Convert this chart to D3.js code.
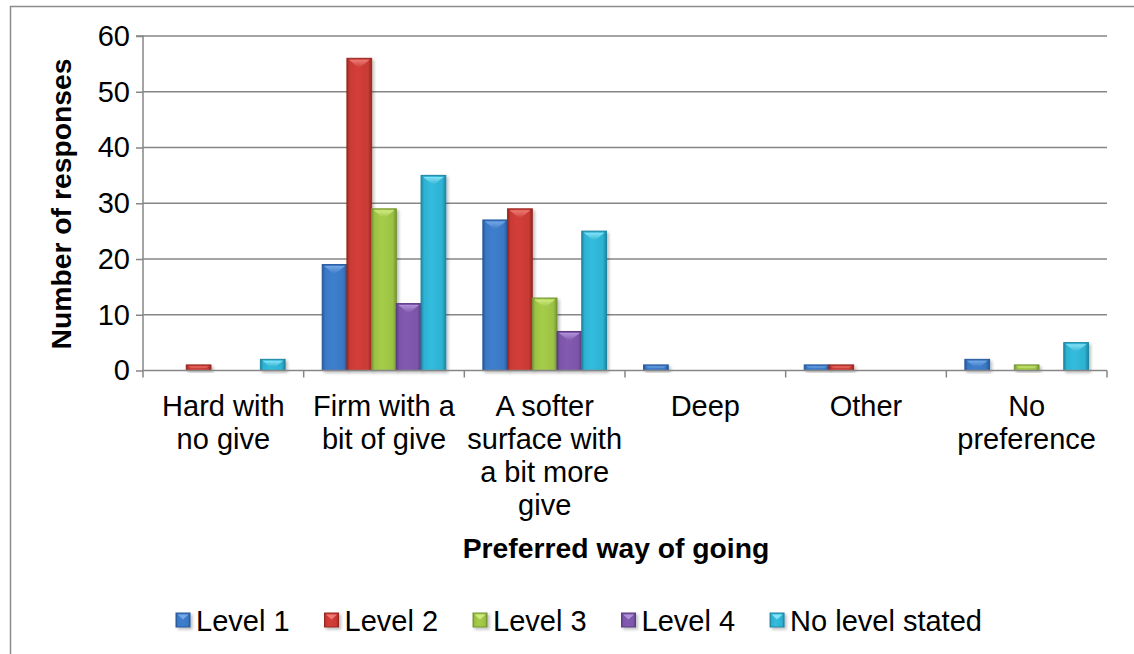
<!DOCTYPE html>
<html>
<head>
<meta charset="utf-8">
<script src="https://cdn.jsdelivr.net/npm/d3@7"></script>
<style>
  html, body { margin: 0; padding: 0; background: #fff; }
  svg { display: block; }
  svg text { font-family: "Liberation Sans", Arial, sans-serif; fill: #000; }
</style>
</head>
<body>
<svg id="chart" width="1134" height="654" font-family="'Liberation Sans', Arial, sans-serif"></svg>
<script>
// ---- data ----
const categories = ["Hard with no give", "Firm with a bit of give", "A softer surface with a bit more give", "Deep", "Other", "No preference"];
const categoryLines = [["Hard with", "no give"], ["Firm with a", "bit of give"], ["A softer", "surface with", "a bit more", "give"], ["Deep"], ["Other"], ["No", "preference"]];
const seriesNames = ["Level 1", "Level 2", "Level 3", "Level 4", "No level stated"];
const level1 = [0, 19, 27, 1, 1, 2];
const level2 = [1, 56, 29, 0, 1, 0];
const level3 = [0, 29, 13, 0, 0, 1];
const level4 = [0, 12, 7, 0, 0, 0];
const noLevel = [2, 35, 25, 0, 0, 5];
const yTicks = [0, 10, 20, 30, 40, 50, 60];
const yTitle = "Number of responses";
const xTitle = "Preferred way of going";

const seriesValues = [level1, level2, level3, level4, noLevel];
const colors = [
  { base: "#3a78c4", dark: "#28589a", light: "#74a8e6" },
  { base: "#c93a35", dark: "#97281f", light: "#ee7a74" },
  { base: "#9cc244", dark: "#769534", light: "#d0ea80" },
  { base: "#7c55a8", dark: "#5a3c80", light: "#b092d8" },
  { base: "#2eb2d2", dark: "#1f86a2", light: "#86e2f6" }
];
const FS = 29;
const TFS = 28.3;

const svg = d3.select("#chart");
const defs = svg.append("defs");

colors.forEach((c, i) => {
  const g = defs.append("linearGradient").attr("id", "grad" + i)
    .attr("x1", "0").attr("x2", "1").attr("y1", "0").attr("y2", "0");
  g.append("stop").attr("offset", "0%").attr("stop-color", c.dark);
  g.append("stop").attr("offset", "12%").attr("stop-color", c.base);
  g.append("stop").attr("offset", "40%").attr("stop-color", d3.color(c.base).brighter(0.15));
  g.append("stop").attr("offset", "85%").attr("stop-color", c.base);
  g.append("stop").attr("offset", "100%").attr("stop-color", c.dark);
  const t = defs.append("linearGradient").attr("id", "bev" + i)
    .attr("x1", "0").attr("x2", "0").attr("y1", "0").attr("y2", "1");
  t.append("stop").attr("offset", "0%").attr("stop-color", c.light);
  t.append("stop").attr("offset", "100%").attr("stop-color", c.base);
});
const f = defs.append("filter").attr("id", "shadow").attr("x", "-20%").attr("y", "-20%").attr("width", "150%").attr("height", "150%");
f.append("feDropShadow").attr("dx", 2).attr("dy", 2).attr("stdDeviation", 1.5).attr("flood-color", "#000").attr("flood-opacity", 0.25);

// outer border
svg.append("rect").attr("x", 10.5).attr("y", 6.5).attr("width", 1140).attr("height", 660)
  .attr("fill", "none").attr("stroke", "#8c8c8c").attr("stroke-width", 1.5);

const plot = { left: 143, right: 1107, top: 36, bottom: 370.5 };

const x0 = d3.scaleBand().domain(categories).range([plot.left, plot.right]).paddingInner(0).paddingOuter(0);
const x1 = d3.scaleBand().domain(seriesNames).range([0, x0.bandwidth()]).paddingInner(0).paddingOuter(0.75);
const y = d3.scaleLinear().domain([0, 60]).range([plot.bottom, plot.top]);

// gridlines
svg.append("g").selectAll("line").data(yTicks.filter(t => t > 0)).join("line")
  .attr("x1", plot.left).attr("x2", plot.right)
  .attr("y1", d => y(d)).attr("y2", d => y(d))
  .attr("stroke", "#868686").attr("stroke-width", 1.5);

// y axis
const yAxis = svg.append("g").attr("transform", `translate(${plot.left},0)`)
  .call(d3.axisLeft(y).tickValues(yTicks).tickSize(7).tickPadding(6).tickFormat(d3.format("d")));
yAxis.attr("font-family", null).attr("font-size", null);
yAxis.select(".domain").attr("stroke", "#868686").attr("stroke-width", 1.5).attr("d", `M-7,${y(60)}H0V${y(0)}`);
yAxis.selectAll(".tick line").attr("stroke", "#868686").attr("stroke-width", 1.5);
yAxis.selectAll(".tick text").attr("font-size", FS).attr("fill", "#000");

// bars
const groups = svg.append("g").selectAll("g").data(categories).join("g")
  .attr("transform", d => `translate(${x0(d)},0)`);

groups.each(function(cat, ci) {
  const g = d3.select(this);
  seriesNames.forEach((s, si) => {
    const v = seriesValues[si][ci];
    if (!v) return;
    const bx = x1(s), bw = x1.bandwidth();
    const by = y(v), bh = y(0) - y(v);
    const bg = g.append("g").attr("filter", "url(#shadow)");
    bg.append("rect").attr("x", bx).attr("y", by).attr("width", bw).attr("height", bh)
      .attr("fill", `url(#grad${si})`).attr("stroke", colors[si].dark).attr("stroke-width", 1);
    const full = bw * 0.4;
    const depth = Math.min(full, bh * 0.7);
    const inset = 2;
    const frac = depth / full;
    const halfBottom = (1 - Math.min(1, frac)) * (bw / 2 - inset);
    const pts = [
      [bx + inset, by + 1.5],
      [bx + bw - inset, by + 1.5],
      [bx + bw / 2 + halfBottom, by + depth],
      [bx + bw / 2 - halfBottom, by + depth]
    ];
    bg.append("path").attr("d", d3.line()(pts) + "Z")
      .attr("fill", `url(#bev${si})`);
  });
});

// x axis
svg.append("line").attr("x1", plot.left).attr("x2", plot.right)
  .attr("y1", y(0)).attr("y2", y(0)).attr("stroke", "#868686").attr("stroke-width", 1.5);
const boundaries = categories.map(c => x0(c)).concat([x0(categories[categories.length - 1]) + x0.bandwidth()]);
svg.append("g").selectAll("line").data(boundaries).join("line")
  .attr("x1", d => d).attr("x2", d => d)
  .attr("y1", y(0)).attr("y2", y(0) + 7)
  .attr("stroke", "#868686").attr("stroke-width", 1.5);

// category labels
const catG = svg.append("g");
categories.forEach((c, i) => {
  const cx = x0(c) + x0.bandwidth() / 2;
  const t = catG.append("text").attr("text-anchor", "middle").attr("font-size", FS)
    .attr("x", cx).attr("y", 416);
  categoryLines[i].forEach((ln, li) => {
    t.append("tspan").attr("x", cx).attr("dy", li === 0 ? 0 : 33).text(ln);
  });
});

// axis titles
svg.append("text").attr("x", 616).attr("y", 558).attr("text-anchor", "middle")
  .attr("font-size", TFS).attr("font-weight", "bold").text(xTitle);
svg.append("text").attr("transform", `translate(71,204) rotate(-90)`)
  .attr("text-anchor", "middle").attr("font-size", TFS).attr("font-weight", "bold").text(yTitle);

// legend
const legend = svg.append("g");
let lx = 176;
seriesNames.forEach((s, i) => {
  const item = legend.append("g").attr("filter", "url(#shadow)");
  item.append("rect").attr("x", lx).attr("y", 613).attr("width", 14).attr("height", 14)
    .attr("fill", `url(#grad${i})`).attr("stroke", colors[i].dark).attr("stroke-width", 1);
  item.append("path").attr("d", `M${lx + 1.5},614.5H${lx + 12.5}L${lx + 7},619.5Z`).attr("fill", colors[i].light);
  const t = legend.append("text").attr("x", lx + 20).attr("y", 631).attr("font-size", FS).text(s);
  lx += 20 + t.node().getComputedTextLength() + 35;
});
</script>
</body>
</html>
